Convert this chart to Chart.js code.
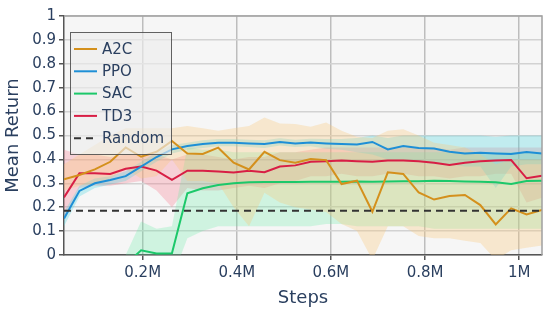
<!DOCTYPE html>
<html>
<head>
<meta charset="utf-8">
<script src="https://cdn.jsdelivr.net/npm/chart.js@4.4.1/dist/chart.umd.min.js"></script>
<style>
  html, body { margin: 0; padding: 0; background: #ffffff; }
  #wrap { width: 548px; height: 313px; position: relative; }
</style>
</head>
<body>
<div id="wrap"><canvas id="c" width="548" height="313"></canvas></div>
<script>
const steps = [32768, 65536, 98304, 131072, 163840, 196608, 229376, 262144, 294912, 327680, 360448, 393216, 425984, 458752, 491520, 524288, 557056, 589824, 622592, 655360, 688128, 720896, 753664, 786432, 819200, 851968, 884736, 917504, 950272, 983040, 1015808, 1048576];

const a2c = [0.317, 0.335, 0.358, 0.39, 0.45, 0.411, 0.432, 0.477, 0.425, 0.423, 0.449, 0.386, 0.358, 0.432, 0.397, 0.386, 0.402, 0.397, 0.297, 0.311, 0.181, 0.346, 0.339, 0.262, 0.232, 0.247, 0.251, 0.209, 0.128, 0.195, 0.17, 0.188];
const a2cHi = [0.38, 0.42, 0.46, 0.50, 0.53, 0.53, 0.53, 0.53, 0.54, 0.53, 0.52, 0.53, 0.54, 0.575, 0.55, 0.548, 0.537, 0.554, 0.52, 0.495, 0.49, 0.52, 0.526, 0.50, 0.47, 0.46, 0.45, 0.42, 0.38, 0.40, 0.40, 0.40];
const a2cLo = [0.27, 0.29, 0.30, 0.32, 0.36, 0.32, 0.33, 0.40, 0.31, 0.31, 0.30, 0.20, 0.12, 0.26, 0.22, 0.20, 0.19, 0.18, 0.13, 0.10, -0.02, 0.12, 0.12, 0.08, 0.07, 0.07, 0.06, 0.05, -0.02, 0.02, 0.03, 0.04];

const ppo = [0.153, 0.268, 0.30, 0.314, 0.33, 0.37, 0.41, 0.442, 0.456, 0.464, 0.47, 0.47, 0.467, 0.464, 0.473, 0.467, 0.471, 0.467, 0.464, 0.462, 0.473, 0.442, 0.456, 0.448, 0.446, 0.432, 0.425, 0.428, 0.425, 0.423, 0.431, 0.425];
const ppoHi = [0.18, 0.29, 0.32, 0.33, 0.35, 0.39, 0.43, 0.46, 0.47, 0.48, 0.485, 0.485, 0.482, 0.48, 0.488, 0.482, 0.486, 0.485, 0.485, 0.49, 0.50, 0.49, 0.50, 0.50, 0.50, 0.50, 0.50, 0.50, 0.495, 0.50, 0.50, 0.50];
const ppoLo = [0.12, 0.245, 0.28, 0.295, 0.31, 0.35, 0.39, 0.425, 0.44, 0.448, 0.455, 0.455, 0.452, 0.448, 0.458, 0.452, 0.455, 0.445, 0.44, 0.43, 0.42, 0.40, 0.40, 0.39, 0.38, 0.38, 0.37, 0.37, 0.28, 0.37, 0.38, 0.38];

const sac = [-0.2, -0.15, -0.12, -0.08, -0.04, 0.02, 0.006, 0.007, 0.258, 0.279, 0.293, 0.30, 0.304, 0.305, 0.305, 0.305, 0.306, 0.307, 0.307, 0.308, 0.306, 0.308, 0.309, 0.309, 0.311, 0.31, 0.308, 0.307, 0.304, 0.297, 0.31, 0.311];
const sacHi = [-0.05, -0.04, -0.03, -0.02, 0.0, 0.14, 0.11, 0.12, 0.45, 0.44, 0.44, 0.43, 0.43, 0.43, 0.43, 0.43, 0.43, 0.43, 0.43, 0.43, 0.43, 0.43, 0.43, 0.43, 0.43, 0.43, 0.43, 0.43, 0.43, 0.43, 0.43, 0.43];
const sacLo = [-0.4, -0.35, -0.3, -0.25, -0.2, -0.1, -0.1, -0.1, 0.07, 0.10, 0.12, 0.12, 0.12, 0.12, 0.12, 0.12, 0.12, 0.13, 0.13, 0.12, 0.12, 0.12, 0.12, 0.12, 0.11, 0.11, 0.11, 0.11, 0.11, 0.11, 0.11, 0.11];

const td3 = [0.241, 0.342, 0.342, 0.339, 0.361, 0.37, 0.353, 0.314, 0.353, 0.353, 0.349, 0.345, 0.353, 0.346, 0.37, 0.375, 0.39, 0.392, 0.395, 0.392, 0.39, 0.395, 0.395, 0.392, 0.386, 0.377, 0.386, 0.392, 0.395, 0.397, 0.321, 0.332];
const td3Hi = [0.44, 0.42, 0.42, 0.41, 0.42, 0.42, 0.42, 0.40, 0.42, 0.42, 0.41, 0.40, 0.41, 0.41, 0.43, 0.43, 0.44, 0.45, 0.45, 0.45, 0.45, 0.45, 0.45, 0.45, 0.45, 0.44, 0.45, 0.45, 0.45, 0.45, 0.45, 0.45];
const td3Lo = [0.14, 0.28, 0.29, 0.29, 0.30, 0.31, 0.27, 0.20, 0.28, 0.27, 0.27, 0.28, 0.29, 0.28, 0.30, 0.31, 0.33, 0.33, 0.34, 0.33, 0.33, 0.34, 0.34, 0.33, 0.33, 0.32, 0.33, 0.33, 0.34, 0.34, 0.22, 0.24];

const randomMean = [0.185, 0.185, 0.185, 0.185, 0.185, 0.185, 0.185, 0.185, 0.185, 0.185, 0.185, 0.185, 0.185, 0.185, 0.185, 0.185, 0.185, 0.185, 0.185, 0.185, 0.185, 0.185, 0.185, 0.185, 0.185, 0.185, 0.185, 0.185, 0.185, 0.185, 0.185, 0.185];

const xTicks = [200000, 400000, 600000, 800000, 1000000];
const xTickLabels = ['0.2M', '0.4M', '0.6M', '0.8M', '1M'];
const yTicks = [0, 0.1, 0.2, 0.3, 0.4, 0.5, 0.6, 0.7, 0.8, 0.9, 1];
const yTickLabels = ['0', '0.1', '0.2', '0.3', '0.4', '0.5', '0.6', '0.7', '0.8', '0.9', '1'];

const COL = {
  A2C: '#d4901c', PPO: '#1e8fd6', SAC: '#1cc86a', TD3: '#d81e45', Random: '#333333'
};
const BAND = {
  A2C: 'rgba(250,200,120,0.32)', PPO: 'rgba(80,215,225,0.32)', SAC: 'rgba(90,235,160,0.25)', TD3: 'rgba(245,120,140,0.30)'
};

const pts = arr => arr.map((v, i) => ({ x: steps[i], y: v }));

function bandPair(name, hi, lo) {
  return [
    { label: name + ' hi', data: pts(hi), borderWidth: 0, pointRadius: 0, fill: '+1', backgroundColor: BAND[name], order: 100, band: true },
    { label: name + ' lo', data: pts(lo), borderWidth: 0, pointRadius: 0, fill: false, order: 100, band: true }
  ];
}
function line(name, arr, ord, extra) {
  return Object.assign({ label: name, data: pts(arr), borderColor: COL[name], backgroundColor: COL[name], borderWidth: 2, pointRadius: 0, fill: false, tension: 0, order: ord }, extra || {});
}

const datasets = [
  ...bandPair('A2C', a2cHi, a2cLo),
  ...bandPair('PPO', ppoHi, ppoLo),
  ...bandPair('SAC', sacHi, sacLo),
  ...bandPair('TD3', td3Hi, td3Lo),
  line('SAC', sac, 4),
  line('TD3', td3, 3),
  line('PPO', ppo, 2),
  line('A2C', a2c, 1),
  line('Random', randomMean, 0, { borderDash: [7, 5], borderWidth: 2 })
];

const FONT = '"DejaVu Sans", Verdana, sans-serif';
const TEXT = '#2a3f5f';

const plotBg = {
  id: 'plotBg',
  beforeDraw(chart) {
    const { ctx, chartArea: a } = chart;
    ctx.save();
    ctx.fillStyle = '#f6f6f6';
    ctx.fillRect(a.left, a.top, a.right - a.left, a.bottom - a.top);
    ctx.restore();
  },
  afterDraw(chart) {
    const { ctx, chartArea: a } = chart;
    ctx.save();
    ctx.strokeStyle = '#a0a0a0';
    ctx.lineWidth = 1.5;
    ctx.beginPath();
    ctx.moveTo(a.left, a.top);
    ctx.lineTo(a.right, a.top);
    ctx.lineTo(a.right, a.bottom);
    ctx.stroke();
    ctx.restore();
  }
};

const legendBox = {
  id: 'legendBox',
  afterDatasetsDraw(chart) {
    const ctx = chart.ctx;
    const names = chart.data.datasets.filter(d => !d.band).map(d => d.label);
    const orderNames = ['A2C', 'PPO', 'SAC', 'TD3', 'Random'].filter(n => names.includes(n));
    const x0 = 70.5, y0 = 32.5, w = 101, h = 122;
    ctx.save();
    ctx.fillStyle = 'rgba(236,236,236,0.65)';
    ctx.fillRect(x0, y0, w, h);
    ctx.strokeStyle = 'rgba(70,70,70,0.85)';
    ctx.lineWidth = 1;
    ctx.strokeRect(x0, y0, w, h);
    ctx.font = '15px ' + FONT;
    ctx.textBaseline = 'middle';
    ctx.textAlign = 'left';
    orderNames.forEach((n, i) => {
      const ds = chart.data.datasets.find(d => d.label === n);
      const yy = 49 + i * 22.3;
      ctx.strokeStyle = ds.borderColor;
      ctx.lineWidth = 2;
      ctx.setLineDash(ds.borderDash || []);
      ctx.beginPath();
      ctx.moveTo(74, yy);
      ctx.lineTo(97, yy);
      ctx.stroke();
      ctx.setLineDash([]);
      ctx.fillStyle = TEXT;
      ctx.fillText(n, 102, yy + 1);
    });
    ctx.restore();
  }
};

new Chart(document.getElementById('c'), {
  type: 'line',
  data: { datasets },
  options: {
    responsive: false,
    animation: false,
    layout: { padding: { left: 0, top: 16, right: 6, bottom: 0 } },
    plugins: { legend: { display: false }, tooltip: { enabled: false }, filler: { propagate: false } },
    scales: {
      x: {
        type: 'linear',
        min: 32768,
        max: 1048576,
        afterBuildTicks: s => { s.ticks = xTicks.map(v => ({ value: v })); },
        afterFit: s => { s.height = 58; },
        ticks: {
          autoSkip: false,
          maxRotation: 0,
          padding: 4,
          color: TEXT,
          font: { family: FONT, size: 15 },
          callback: v => xTickLabels[xTicks.indexOf(v)]
        },
        grid: { color: '#bdbdbd', lineWidth: 1.5, tickLength: 5, tickColor: '#555', drawTicks: true },
        border: { display: true, color: '#555', width: 1.5 },
        title: { display: true, text: 'Steps', color: TEXT, font: { family: FONT, size: 18 }, padding: { top: 2, bottom: 4 } }
      },
      y: {
        min: 0,
        max: 1,
        afterBuildTicks: s => { s.ticks = yTicks.map(v => ({ value: v })); },
        afterFit: s => { s.width = 64; },
        ticks: {
          autoSkip: false,
          padding: 3,
          color: TEXT,
          font: { family: FONT, size: 15 },
          callback: v => yTickLabels[yTicks.findIndex(t => Math.abs(t - v) < 1e-9)]
        },
        grid: { color: '#d2d2d2', lineWidth: 1.5, tickLength: 5, tickColor: '#555', drawTicks: true },
        border: { display: true, color: '#555', width: 1.5 },
        title: { display: true, text: 'Mean Return', color: TEXT, font: { family: FONT, size: 18 }, padding: { top: 3, bottom: 3 } }
      }
    }
  },
  plugins: [plotBg, legendBox]
});
</script>
</body>
</html>
